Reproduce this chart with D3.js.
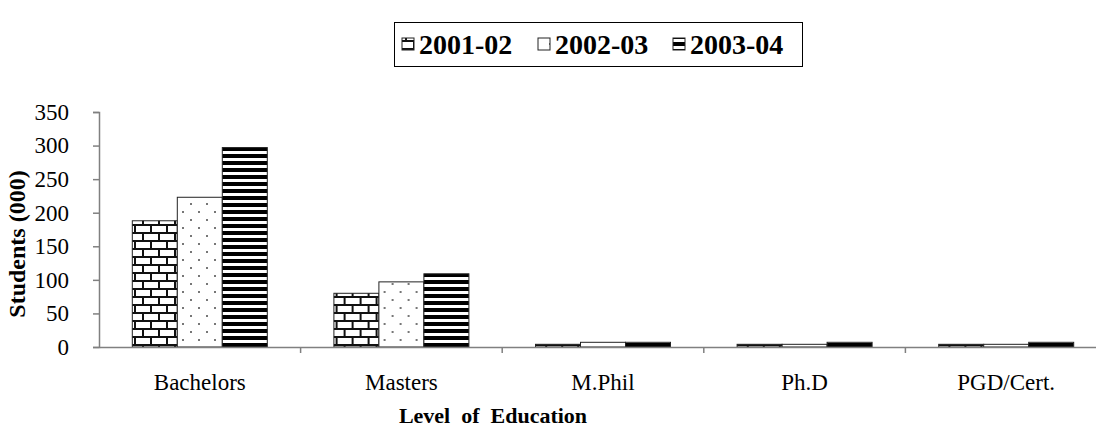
<!DOCTYPE html>
<html>
<head>
<meta charset="utf-8">
<script src="https://cdn.jsdelivr.net/npm/d3@7"></script>
<style>
  body { margin: 0; background: #fff; }
  svg { display: block; }
  text { font-family: "Liberation Serif", "Times New Roman", serif; fill: #000; }
</style>
</head>
<body>
<div id="chart"></div>
<script>
var categories = ['Bachelors', 'Masters', 'M.Phil', 'Ph.D', 'PGD/Cert.'];
var years = ['2001-02', '2002-03', '2003-04'];
var v2001 = [188, 80, 4, 4, 4];
var v2002 = [223, 97, 7, 4, 4];
var v2003 = [297, 109, 7, 7, 7];
var yTicks = [0, 50, 100, 150, 200, 250, 300, 350];

var width = 1096, height = 431;
var plotLeft = 99, plotRight = 1107, plotTop = 112, plotBottom = 347;

var svg = d3.select('#chart').append('svg')
    .attr('width', width)
    .attr('height', height);

var defs = svg.append('defs');

// brick pattern
var brick = defs.append('pattern').attr('id', 'p0')
    .attr('patternUnits', 'userSpaceOnUse')
    .attr('width', 16).attr('height', 16);
brick.append('rect').attr('width', 16).attr('height', 16).attr('fill', '#fff');
brick.append('rect').attr('x', 0).attr('y', 0).attr('width', 16).attr('height', 2).attr('fill', '#111');
brick.append('rect').attr('x', 0).attr('y', 8).attr('width', 16).attr('height', 2).attr('fill', '#111');
brick.append('rect').attr('x', 3).attr('y', 0).attr('width', 2).attr('height', 8).attr('fill', '#111');
brick.append('rect').attr('x', 11).attr('y', 8).attr('width', 2).attr('height', 8).attr('fill', '#111');

// dotted pattern
var dots = defs.append('pattern').attr('id', 'p1')
    .attr('patternUnits', 'userSpaceOnUse')
    .attr('width', 16).attr('height', 16);
dots.append('rect').attr('width', 16).attr('height', 16).attr('fill', '#fff');
dots.append('rect').attr('x', 3).attr('y', 3).attr('width', 2).attr('height', 2).attr('fill', '#777');
dots.append('rect').attr('x', 11).attr('y', 11).attr('width', 2).attr('height', 2).attr('fill', '#777');

// horizontal stripes
var stripes = defs.append('pattern').attr('id', 'p2')
    .attr('patternUnits', 'userSpaceOnUse')
    .attr('width', 8).attr('height', 7);
stripes.append('rect').attr('width', 8).attr('height', 7).attr('fill', '#fff');
stripes.append('rect').attr('y', 0).attr('width', 8).attr('height', 4).attr('fill', '#000');

var fills = ['url(#p0)', 'url(#p1)', 'url(#p2)'];
var series = [v2001, v2002, v2003];

var x = d3.scaleBand().domain(categories).range([plotLeft, plotRight]).paddingInner(0).paddingOuter(0);
var x1 = d3.scaleBand().domain(years).range([0, x.bandwidth()]).paddingInner(0).paddingOuter(0.74);
var y = d3.scaleLinear().domain([0, 350]).range([plotBottom, plotTop]);

// bars
var groups = svg.append('g').selectAll('g')
    .data(categories).enter().append('g')
    .attr('transform', function(d) { return 'translate(' + x(d) + ',0)'; });

groups.selectAll('rect')
    .data(function(d, i) {
        return years.map(function(yr, j) { return {year: yr, value: series[j][i], k: j}; });
    })
    .enter().append('rect')
    .attr('x', function(d) { return x1(d.year); })
    .attr('y', function(d) { return y(d.value); })
    .attr('width', x1.bandwidth())
    .attr('height', function(d) { return y(0) - y(d.value); })
    .attr('fill', function(d) { return fills[d.k]; })
    .attr('stroke', '#222')
    .attr('stroke-width', 1);

// y axis
var yAxis = svg.append('g')
    .attr('transform', 'translate(' + plotLeft + ',0)')
    .call(d3.axisLeft(y).tickValues(yTicks).tickSize(6).tickPadding(24));
yAxis.select('.domain').attr('stroke', '#808080').attr('stroke-width', 1.5);
yAxis.selectAll('.tick line').attr('stroke', '#808080').attr('stroke-width', 1.5);
yAxis.selectAll('text').style('font-size', '23px').style('font-family', '"Liberation Serif", serif');

// x axis
var xAxis = svg.append('g')
    .attr('transform', 'translate(0,' + plotBottom + ')')
    .call(d3.axisBottom(x).tickSize(0).tickPadding(27));
xAxis.select('.domain').attr('stroke', '#808080').attr('stroke-width', 1.5);
xAxis.selectAll('text').style('font-size', '23px').style('font-family', '"Liberation Serif", serif');
xAxis.selectAll('.sep').data(categories.slice(1)).enter().append('line')
    .attr('class', 'sep')
    .attr('x1', function(d) { return x(d); })
    .attr('x2', function(d) { return x(d); })
    .attr('y1', 0).attr('y2', 6)
    .attr('stroke', '#808080').attr('stroke-width', 1.5);

// axis titles
svg.append('text')
    .attr('transform', 'translate(25,244) rotate(-90)')
    .attr('text-anchor', 'middle')
    .style('font-size', '24px')
    .style('font-weight', 'bold')
    .text('Students (000)');

svg.append('text')
    .attr('x', 493).attr('y', 423)
    .attr('text-anchor', 'middle')
    .style('font-size', '22px')
    .style('font-weight', 'bold')
    .style('white-space', 'pre')
    .text('Level  of  Education');

// legend
var legend = svg.append('g');
legend.append('rect')
    .attr('x', 394.5).attr('y', 22.5).attr('width', 408).attr('height', 44)
    .attr('fill', '#fff').attr('stroke', '#000').attr('stroke-width', 1);
var lx = [402, 538, 673];
var items = legend.selectAll('.item').data(years).enter().append('g')
    .attr('transform', function(d, i) { return 'translate(' + lx[i] + ',0)'; });
items.append('rect')
    .attr('x', 0).attr('y', 38).attr('width', 12).attr('height', 12)
    .attr('fill', function(d, i) { return fills[i]; })
    .attr('stroke', '#222');
items.append('text')
    .attr('x', 17).attr('y', 54)
    .style('font-size', '28px')
    .style('font-weight', 'bold')
    .text(function(d) { return d; });
</script>
</body>
</html>
